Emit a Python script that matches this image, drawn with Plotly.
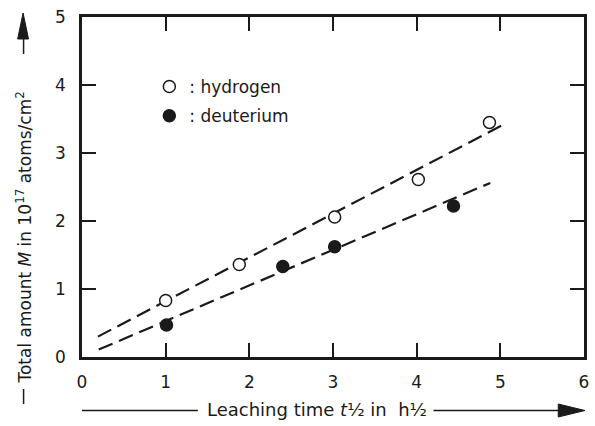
import plotly.graph_objects as go

# ---- data ----
h_x = [1.0, 1.88, 3.02, 4.02, 4.87]
h_y = [0.83, 1.36, 2.06, 2.61, 3.45]
d_x = [1.01, 2.40, 3.02, 4.44]
d_y = [0.47, 1.33, 1.62, 2.22]
h_fit_x = [0.19, 5.04]
h_fit_y = [0.30, 3.42]
d_fit_x = [0.20, 4.88]
d_fit_y = [0.11, 2.56]
x_ticks = [0, 1, 2, 3, 4, 5, 6]
y_ticks = [0, 1, 2, 3, 4, 5]

# ---- layout geometry (pixels) ----
W, H = 595, 426
L, R, T, B = 82, 6, 17, 69
PW, PH = W - L - R, H - T - B

def px(x):
    return (x - L) / PW

def py(y):
    return (H - B - y) / PH

FONT = "DejaVu Sans"
INK = "#1a1a1a"

fig = go.Figure()
fig.add_trace(go.Scatter(x=h_fit_x, y=h_fit_y, mode="lines",
                         line=dict(color=INK, width=2.2, dash="15px,7px"),
                         showlegend=False, hoverinfo="skip"))
fig.add_trace(go.Scatter(x=d_fit_x, y=d_fit_y, mode="lines",
                         line=dict(color=INK, width=2.2, dash="15px,7px"),
                         showlegend=False, hoverinfo="skip"))
fig.add_trace(go.Scatter(x=h_x, y=h_y, mode="markers", name=": hydrogen",
                         legendgroup="h",
                         marker=dict(symbol="circle", size=12, color="white",
                                     line=dict(color=INK, width=1.5))))
fig.add_trace(go.Scatter(x=d_x, y=d_y, mode="markers", name=": deuterium",
                         legendgroup="d",
                         marker=dict(symbol="circle", size=12, color=INK,
                                     line=dict(color=INK, width=1.5))))

axis_common = dict(showgrid=False, zeroline=False, showline=True,
                   linecolor=INK, linewidth=2.5, mirror="ticks",
                   ticks="inside", ticklen=14, tickwidth=1.5, tickcolor=INK,
                   tickfont=dict(family=FONT, size=17, color=INK))

fig.update_layout(
    width=W, height=H,
    margin=dict(l=L, r=R, t=T, b=B),
    paper_bgcolor="white", plot_bgcolor="white",
    font=dict(family=FONT, size=17, color=INK),
    xaxis=dict(range=[0, 6], tickvals=x_ticks, ticklabelstandoff=8, **axis_common),
    yaxis=dict(range=[0, 5], tickvals=y_ticks, ticklabelstandoff=10, **axis_common),
    legend=dict(x=px(150), y=py(69), xanchor="left", yanchor="top",
                bgcolor="rgba(0,0,0,0)", traceorder="grouped", tracegroupgap=4,
                font=dict(family=FONT, size=17, color=INK)),
    showlegend=True,
)

# axis titles
fig.add_annotation(xref="paper", yref="paper", x=px(319), y=py(410),
                   text="Leaching time <i>t</i>½ in  h½", showarrow=False,
                   font=dict(family=FONT, size=18, color=INK),
                   xanchor="center", yanchor="middle")
fig.add_annotation(xref="paper", yref="paper", x=px(23), y=py(238),
                   text="Total amount <i>M</i> in 10<sup>17</sup> atoms/cm<sup>2</sup>",
                   showarrow=False, textangle=-90,
                   font=dict(family=FONT, size=17, color=INK),
                   xanchor="center", yanchor="middle")

# arrow decorations
line_style = dict(color=INK, width=1.5)
fig.add_shape(type="line", xref="paper", yref="paper",
              x0=px(82), x1=px(199), y0=py(410.5), y1=py(410.5), line=line_style)
fig.add_shape(type="line", xref="paper", yref="paper",
              x0=px(437), x1=px(566), y0=py(410.5), y1=py(410.5), line=line_style)
fig.add_shape(type="path", xref="paper", yref="paper",
              path=f"M {px(563)},{py(404)} L {px(590)},{py(410.5)} L {px(563)},{py(417)} Z",
              fillcolor=INK, line=dict(color=INK, width=1))
fig.add_shape(type="line", xref="paper", yref="paper",
              x0=px(23), x1=px(23), y0=py(389), y1=py(404), line=line_style)
fig.add_shape(type="line", xref="paper", yref="paper",
              x0=px(23), x1=px(23), y0=py(36), y1=py(54), line=line_style)
fig.add_shape(type="path", xref="paper", yref="paper",
              path=f"M {px(17)},{py(39)} L {px(22.5)},{py(13)} L {px(28)},{py(39)} Z",
              fillcolor=INK, line=dict(color=INK, width=1))

fig.write_html("out.html")
